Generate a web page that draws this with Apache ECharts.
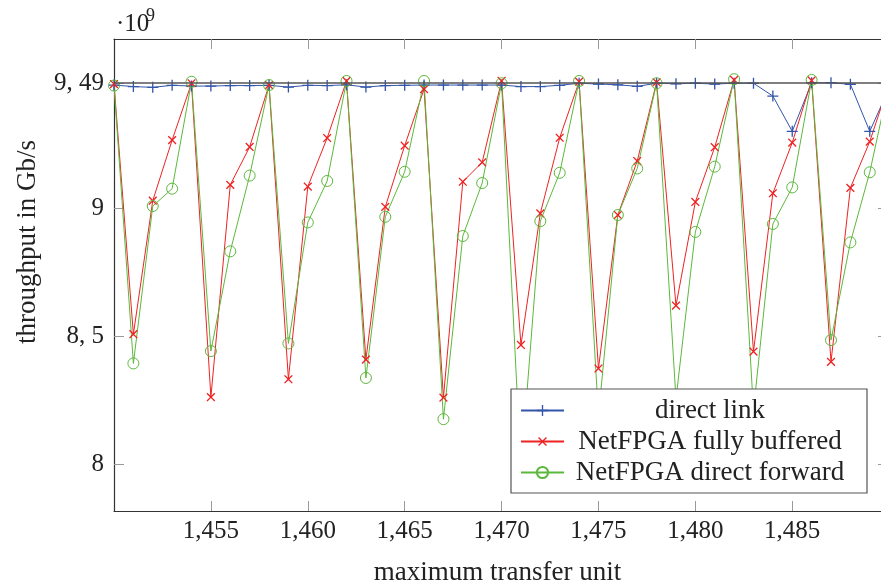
<!DOCTYPE html>
<html><head><meta charset="utf-8">
<script src="https://cdn.jsdelivr.net/npm/echarts@6/dist/echarts.min.js"></script>
<style>html,body{margin:0;padding:0;background:#fff}#c{width:881px;height:581px}</style>
</head><body><div id="c"></div>
<script>
const mtu = [1450,1451,1452,1453,1454,1455,1456,1457,1458,1459,1460,1461,1462,1463,1464,1465,1466,1467,1468,1469,1470,1471,1472,1473,1474,1475,1476,1477,1478,1479,1480,1481,1482,1483,1484,1485,1486,1487,1488,1489,1490];
const directLink = [9.482,9.476,9.473,9.481,9.478,9.478,9.480,9.480,9.481,9.474,9.481,9.480,9.483,9.474,9.480,9.481,9.482,9.482,9.482,9.482,9.482,9.476,9.476,9.481,9.489,9.486,9.483,9.477,9.489,9.487,9.489,9.486,9.489,9.489,9.439,9.301,9.491,9.491,9.485,9.301,9.47];
const fullyBuffered = [9.486,8.508,9.030,9.267,9.489,8.262,9.092,9.240,9.482,8.332,9.085,9.275,9.498,8.409,9.006,9.245,9.466,8.260,9.104,9.180,9.498,8.466,8.980,9.276,9.495,8.374,8.974,9.185,9.493,8.620,9.025,9.239,9.502,8.440,9.059,9.257,9.500,8.400,9.080,9.261,9.49];
const directForward = [9.480,8.394,9.009,9.077,9.495,8.442,8.832,9.128,9.482,8.472,8.945,9.107,9.498,8.337,8.967,9.143,9.498,8.176,8.892,9.099,9.489,7.980,8.950,9.139,9.498,8.190,8.974,9.156,9.489,8.255,8.908,9.163,9.505,8.210,8.939,9.082,9.502,8.485,8.867,9.141,9.49];
const seriesNames = ['direct link','NetFPGA fully buffered','NetFPGA direct forward'];
const xTicks = [1455,1460,1465,1470,1475,1480,1485];
const yTicks = [8, 8.5, 9, 9.49];
const yTickLabels = ['8','8, 5','9','9, 49'];
const refLine = 9.49;

const FONT = 'Liberation Serif';
const TXT = '#222';
const plusPath = 'path://M4.4,0H5.6V4.4H10V5.6H5.6V10H4.4V5.6H0V4.4H4.4Z';
const pairs = arr => mtu.map((x, i) => [x, arr[i]]);
const xFmt = v => String(v).replace(/^(\d)(\d{3})$/, '$1,$2');
const yFmt = v => { const i = yTicks.findIndex(t => Math.abs(t - v) < 1e-6); return i >= 0 ? yTickLabels[i] : ''; };

const chart = echarts.init(document.getElementById('c'), null, {renderer: 'canvas'});
const tickStyle = {color: '#9a9a9a', width: 1};
const frame = {show: true, onZero: false, lineStyle: {color: '#333', width: 1.2}};
const X_MIN = 1450, X_MAX = 1489.58, Y_MIN = 7.817, Y_MAX = 9.662;
chart.setOption({
  animation: false,
  backgroundColor: '#fff',
  grid: {left: 114, top: 39, right: 0, bottom: 70, show: false, containLabel: false, outerBoundsMode: 'none'},
  xAxis: [{
    type: 'value', min: X_MIN, max: X_MAX, position: 'bottom',
    name: 'maximum transfer unit', nameLocation: 'middle', nameGap: 48,
    nameTextStyle: {fontFamily: FONT, fontSize: 27, color: TXT},
    axisLine: frame, splitLine: {show: false},
    axisTick: {show: true, inside: true, length: 10, lineStyle: tickStyle, customValues: xTicks},
    axisLabel: {show: true, customValues: xTicks, formatter: xFmt, fontFamily: FONT, fontSize: 25, color: TXT, margin: 8}
  }, {
    type: 'value', min: X_MIN, max: X_MAX, position: 'top',
    axisLine: frame, splitLine: {show: false},
    axisTick: {show: true, inside: true, length: 10, lineStyle: tickStyle, customValues: xTicks},
    axisLabel: {show: false, customValues: xTicks}
  }],
  yAxis: [{
    type: 'value', min: Y_MIN, max: Y_MAX, position: 'left',
    axisLine: frame, splitLine: {show: false},
    axisTick: {show: true, inside: true, length: 10, lineStyle: tickStyle, customValues: yTicks},
    axisLabel: {show: true, customValues: yTicks, formatter: yFmt, fontFamily: FONT, fontSize: 25, color: TXT, margin: 10}
  }, {
    type: 'value', min: Y_MIN, max: Y_MAX, position: 'right',
    axisLine: {show: false}, splitLine: {show: false},
    axisTick: {show: true, inside: true, length: 3, lineStyle: tickStyle, customValues: yTicks},
    axisLabel: {show: false, customValues: yTicks}
  }],
  legend: {
    orient: 'vertical', left: 511, top: 389,
    padding: [8, 16, 7, 9], itemWidth: 43, itemHeight: 14, itemGap: 4,
    backgroundColor: '#fff', borderColor: '#555', borderWidth: 1.2,
    data: seriesNames,
    formatter: n => '{a|' + n + '}',
    textStyle: {fontFamily: FONT, fontSize: 27, color: TXT,
      rich: {a: {fontFamily: FONT, fontSize: 27, color: TXT, width: 282, align: 'center', lineHeight: 28}}}
  },
  graphic: [
    {type: 'text', x: 116, y: 24, style: {text: '·10', fontFamily: FONT, fontSize: 25, fill: TXT, textAlign: 'left', textVerticalAlign: 'middle'}},
    {type: 'text', x: 146, y: 16, style: {text: '9', fontFamily: FONT, fontSize: 18, fill: TXT, textAlign: 'left', textVerticalAlign: 'middle'}},
    {type: 'text', x: 28, y: 242, rotation: Math.PI / 2, style: {text: 'throughput in Gb/s', fontFamily: FONT, fontSize: 27, fill: TXT, textAlign: 'center', textVerticalAlign: 'middle'}}
  ],
  series: [{
    name: seriesNames[0], type: 'line', data: pairs(directLink),
    symbol: plusPath, symbolSize: 11,
    lineStyle: {color: '#3355aa', width: 1}, itemStyle: {color: '#3355aa'},
    emphasis: {disabled: true},
    markLine: {silent: true, symbol: 'none', label: {show: false}, lineStyle: {color: '#555', type: 'solid', width: 1.6}, data: [{yAxis: refLine}]}
  }, {
    name: seriesNames[1], type: 'line', data: pairs(fullyBuffered),
    symbol: plusPath, symbolSize: 11, symbolRotate: 45,
    lineStyle: {color: '#ee2222', width: 1}, itemStyle: {color: '#ee2222'},
    emphasis: {disabled: true}
  }, {
    name: seriesNames[2], type: 'line', data: pairs(directForward),
    symbol: 'circle', symbolSize: 11,
    lineStyle: {color: '#5cb83c', width: 1}, itemStyle: {color: 'rgba(255,255,255,0)', borderColor: '#5cb83c', borderWidth: 1},
    emphasis: {disabled: true}
  }]
});
</script>
</body></html>
